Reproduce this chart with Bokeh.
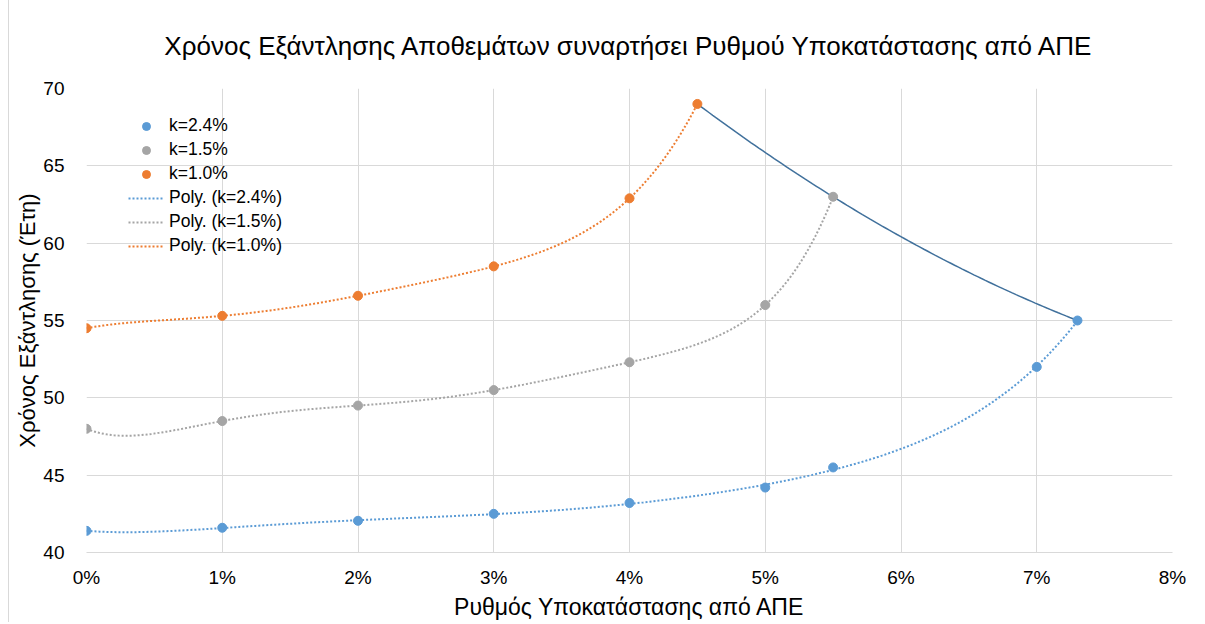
import numpy as np
from bokeh.plotting import figure
from bokeh.models import Legend, LegendItem, FixedTicker, Range1d
from bokeh.embed import file_html
from bokeh.resources import INLINE

# ---- data (x in %, y in years) ----
x_k24 = [0, 1, 2, 3, 4, 5, 5.5, 7, 7.3]
y_k24 = [41.4, 41.6, 42.05, 42.5, 43.2, 44.2, 45.5, 52.0, 55.0]
x_k15 = [0, 1, 2, 3, 4, 5, 5.5]
y_k15 = [48.0, 48.5, 49.5, 50.5, 52.3, 56.0, 63.0]
x_k10 = [0, 1, 2, 3, 4, 4.5]
y_k10 = [54.5, 55.3, 56.6, 58.5, 62.9, 69.0]
# envelope line through series end points
x_env = [4.5, 5.5, 7.3]
y_env = [69.0, 63.0, 55.0]

x_ticks = [0, 1, 2, 3, 4, 5, 6, 7, 8]
x_tick_labels = ["0%", "1%", "2%", "3%", "4%", "5%", "6%", "7%", "8%"]
y_ticks = [40, 45, 50, 55, 60, 65, 70]

title_text = "Χρόνος Εξάντλησης Αποθεμάτων συναρτήσει Ρυθμού Υποκατάστασης από ΑΠΕ"
labels = ["k=2.4%", "k=1.5%", "k=1.0%"]
colors = ["#5B9BD5", "#A5A5A5", "#ED7D31"]
FONT = "Liberation Sans"

p = figure(width=1189, height=618, frame_width=1086, frame_height=464,
           output_backend="svg", toolbar_location=None,
           x_range=Range1d(0, 8), y_range=Range1d(40, 70),
           min_border_left=77, min_border_right=26, min_border_top=88, min_border_bottom=66)
p.styles = {"margin-left": "8px", "border-left": "1px solid #d9d9d9"}

p.title.text = title_text
p.title.align = "center"
p.title.text_font = FONT
p.title.text_font_size = "26px"
p.title.text_font_style = "normal"
p.title.text_color = "#000000"
p.title.offset = 0
p.title.standoff = 55

p.outline_line_color = None
p.grid.grid_line_color = "#d9d9d9"
p.grid.grid_line_width = 1
p.xaxis.ticker = FixedTicker(ticks=x_ticks)
p.yaxis.ticker = FixedTicker(ticks=y_ticks)
p.xaxis.major_label_overrides = {t: l for t, l in zip(x_ticks, x_tick_labels)}
for ax in (p.xaxis, p.yaxis):
    ax.major_tick_line_color = None
    ax.minor_tick_line_color = None
    ax.major_label_text_font = FONT
    ax.major_label_text_font_size = "19px"
    ax.major_label_text_color = "#000000"
    ax.axis_label_text_font = FONT
    ax.axis_label_text_font_style = "normal"
    ax.axis_label_text_color = "#000000"
p.xaxis.axis_label_text_font_size = "23px"
p.yaxis.axis_label_text_font_size = "22px"
p.xaxis.axis_line_color = "#d9d9d9"
p.yaxis.axis_line_color = None
p.xaxis.axis_label = "Ρυθμός Υποκατάστασης από ΑΠΕ"
p.yaxis.axis_label = "Χρόνος Εξάντλησης (Έτη)"
p.xaxis.major_label_standoff = 8
p.yaxis.major_label_standoff = 16
p.xaxis.axis_label_standoff = 3
p.yaxis.axis_label_standoff = 0

# envelope (quadratic through the three end points)
coef_env = np.polyfit(x_env, y_env, 2)
xe = np.linspace(x_env[0], x_env[-1], 100)
p.line(xe, np.polyval(coef_env, xe), line_color="#41719C", line_width=1.5)

series = [(x_k24, y_k24), (x_k15, y_k15), (x_k10, y_k10)]
scat_r, line_r = [], []
for (xs, ys), c in zip(series, colors):
    deg = min(6, len(xs) - 1)
    coef = np.polyfit(xs, ys, deg)
    xf = np.linspace(xs[0], xs[-1], 300)
    lr = p.line(xf, np.polyval(coef, xf), line_color=c, line_width=2, line_dash="2 2")
    line_r.append(lr)
for (xs, ys), c in zip(series, colors):
    sr = p.scatter(xs, ys, size=9, fill_color=c, line_color=c)
    scat_r.append(sr)

items = [LegendItem(label=l, renderers=[r]) for l, r in zip(labels, scat_r)]
items += [LegendItem(label="Poly. (%s)" % l, renderers=[r]) for l, r in zip(labels, line_r)]
legend = Legend(items=items, location=(42, 296))
legend.border_line_color = None
legend.background_fill_alpha = 0
legend.label_text_font = FONT
legend.label_text_font_size = "17.5px"
legend.label_text_color = "#000000"
legend.glyph_width = 36
legend.glyph_height = 20
legend.label_height = 20
legend.spacing = 3
legend.padding = 5
legend.label_standoff = 5
p.add_layout(legend)

open("out.html", "w").write(file_html(p, INLINE))
